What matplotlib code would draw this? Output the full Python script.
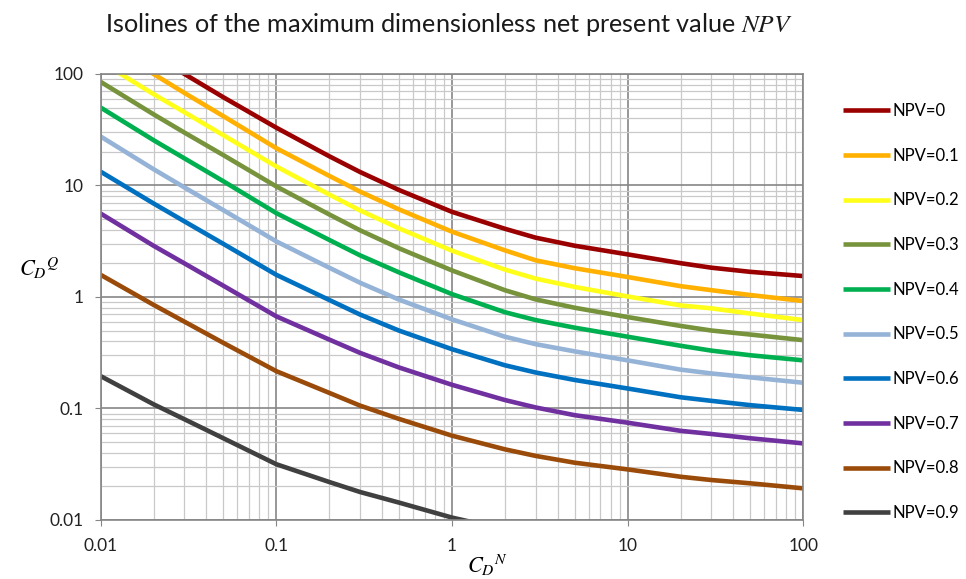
import matplotlib
matplotlib.use("Agg")
import matplotlib.pyplot as plt
from matplotlib.ticker import LogLocator, NullFormatter, FixedLocator, FixedFormatter

plt.rcParams["font.family"] = ["Lato", "DejaVu Sans"]
plt.rcParams["mathtext.fontset"] = "stix"

# C_D^N sample points
cdn = [0.01, 0.02, 0.03, 0.05, 0.1, 0.2, 0.3, 0.5,
       1, 2, 3, 5, 10, 20, 30, 50, 100]

# C_D^Q for each isoline
npv_0 = [279, 145, 100, 61.8, 33, 18.3, 13.2, 9.1,
         5.8, 4.09, 3.40, 2.88, 2.41, 2.01, 1.83, 1.68, 1.54]
npv_01 = [198, 100, 67.6, 41.8, 21.6, 12.2, 8.8, 6.1,
          3.85, 2.62, 2.13, 1.81, 1.51, 1.25, 1.15, 1.04, 0.92]
npv_02 = [129, 66, 45.4, 28.2, 14.8, 8.3, 5.97, 4.12,
          2.6, 1.76, 1.46, 1.23, 1.01, 0.84, 0.79, 0.71, 0.62]
npv_03 = [85, 43.5, 29.8, 18.7, 9.8, 5.5, 3.96, 2.73,
          1.73, 1.15, 0.95, 0.80, 0.66, 0.55, 0.50, 0.46, 0.41]
npv_04 = [50, 25.5, 17.5, 10.9, 5.65, 3.25, 2.36, 1.66,
          1.06, 0.73, 0.62, 0.53, 0.44, 0.365, 0.33, 0.30, 0.27]
npv_05 = [27.5, 14.0, 9.6, 6.0, 3.15, 1.83, 1.34, 0.946,
          0.63, 0.44, 0.377, 0.325, 0.27, 0.223, 0.206, 0.19, 0.17]
npv_06 = [13.3, 6.9, 4.76, 2.99, 1.58, 0.94, 0.695, 0.499,
          0.34, 0.244, 0.21, 0.18, 0.151, 0.126, 0.117, 0.107, 0.097]
npv_07 = [5.6, 2.88, 2.0, 1.26, 0.67, 0.415, 0.315, 0.233,
          0.163, 0.119, 0.102, 0.087, 0.0745, 0.063, 0.059, 0.054, 0.0486]
npv_08 = [1.58, 0.85, 0.60, 0.387, 0.216, 0.138, 0.106, 0.0805,
          0.057, 0.043, 0.0375, 0.0326, 0.0284, 0.0244, 0.0228, 0.0213, 0.0192]
npv_09 = [0.195, 0.109, 0.080, 0.054, 0.0316, 0.0219, 0.0178, 0.0143,
          0.0105, 0.0082]

labels = ["NPV=0", "NPV=0.1", "NPV=0.2", "NPV=0.3", "NPV=0.4",
          "NPV=0.5", "NPV=0.6", "NPV=0.7", "NPV=0.8", "NPV=0.9"]
series = [npv_0, npv_01, npv_02, npv_03, npv_04,
          npv_05, npv_06, npv_07, npv_08, npv_09]
colors = ["#9b0000", "#ffb000", "#ffff1a", "#77933c", "#00b050",
          "#95b3d7", "#0070c0", "#7030a0", "#9a4b0a", "#404040"]

fig = plt.figure(figsize=(9.66, 5.79), dpi=100)
ax = fig.add_axes([0.1042, 0.102, 0.7274, 0.7702])

for ys, lab, c in zip(series, labels, colors):
    ax.plot(cdn[:len(ys)], ys, color=c, lw=3.3, label=lab,
            solid_capstyle="butt", solid_joinstyle="round")

ax.set_xscale("log")
ax.set_yscale("log")
ax.set_xlim(0.01, 100)
ax.set_ylim(0.01, 100)

major = [0.01, 0.1, 1, 10, 100]
major_lab = ["0.01", "0.1", "1", "10", "100"]
for axis in (ax.xaxis, ax.yaxis):
    axis.set_major_locator(FixedLocator(major))
    axis.set_major_formatter(FixedFormatter(major_lab))
    axis.set_minor_locator(LogLocator(base=10, subs=range(2, 10)))
    axis.set_minor_formatter(NullFormatter())

ax.grid(which="major", color="#868686", lw=1.2)
ax.grid(which="minor", color="#c9c9c9", lw=0.9)
ax.set_axisbelow(True)
ax.tick_params(which="major", length=4, color="#868686", labelsize=12.5,
               labelcolor="#222222")
ax.tick_params(axis="y", which="major", pad=8.5)
ax.tick_params(axis="x", which="major", pad=9)
ax.tick_params(which="minor", length=0)
for s in ax.spines.values():
    s.set_color("#868686")
    s.set_linewidth(1.2)

fig.text(0.465, 0.957, "Isolines of the maximum dimensionless net present value $NPV$",
         ha="center", va="center", fontsize=18.2, color="#1a1a1a")
fig.text(0.040, 0.537, "$C_D{}^Q$", ha="center", va="center", fontsize=16)
fig.text(0.505, 0.024, "$C_D{}^N$", ha="center", va="center", fontsize=16)

ax.legend(loc="upper left", bbox_to_anchor=(0.8727, 0.822),
          bbox_transform=fig.transFigure, frameon=False, fontsize=12,
          handlelength=2.82, handletextpad=0.12, labelspacing=1.72,
          borderpad=0, borderaxespad=0)

fig.savefig("out.png", dpi=100)
